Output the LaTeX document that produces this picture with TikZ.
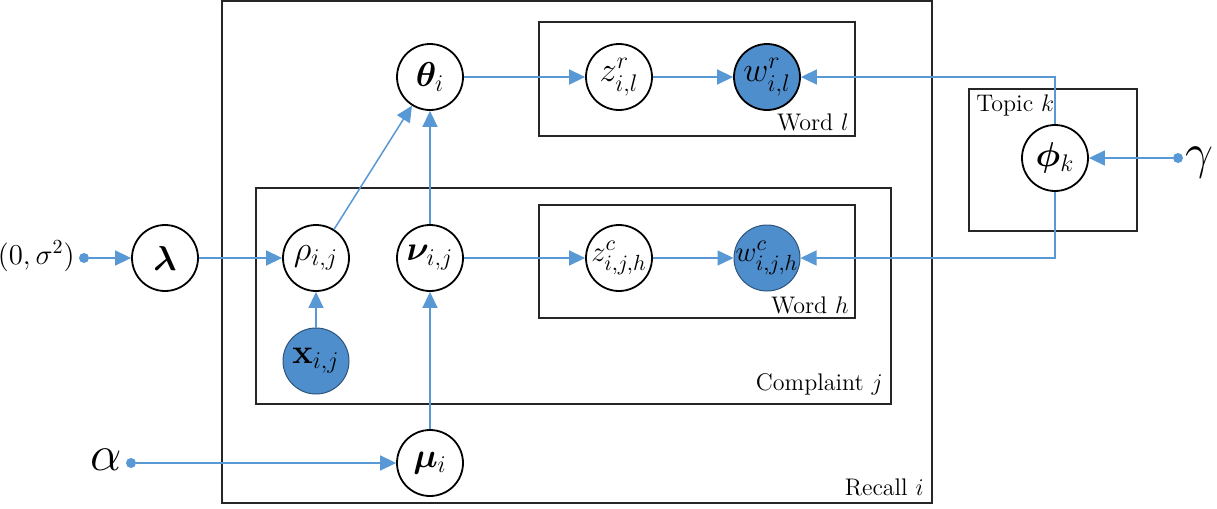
\documentclass[tikz,border=0pt]{standalone}
\usepackage{amsmath,amssymb,bm}
\usetikzlibrary{arrows.meta}
\definecolor{lblue}{RGB}{88,152,212}
\definecolor{fblue}{RGB}{78,142,204}
\begin{document}
\begin{tikzpicture}[x=0.5pt,y=-0.5pt,
  var/.style={circle,draw=black,line width=0.9pt,minimum size=33pt,inner sep=0pt,fill=white},
  obs/.style={var,fill=fblue},
  obsthin/.style={var,fill=fblue,draw=fblue!60!black,line width=0.5pt},
  big/.style={font=\fontsize{18}{21}\selectfont,inner sep=0pt},
  mid/.style={font=\fontsize{15}{18}\selectfont,inner sep=0pt},
  platebox/.style={draw=black!85,line width=0.9pt},
  conn/.style={draw=lblue,line width=0.75pt,-{Triangle[length=8pt,width=7.5pt]}},
  dotnode/.style={circle,fill=lblue,inner sep=0pt,minimum size=5pt},
  lab/.style={inner sep=1pt,font=\large}]
\useasboundingbox (0,0) rectangle (1217,509);
% plates
\draw[platebox] (222,1) rectangle (932,503);
\draw[platebox] (256,188) rectangle (891,404);
\draw[platebox] (539,22) rectangle (855,136);
\draw[platebox] (539,205) rectangle (855,318);
\draw[platebox] (969,89) rectangle (1137,231);
\node[lab,anchor=south east] (lw) at (851,133) {Word $l$};
\node[lab,anchor=south east] (lh) at (851,316) {Word $h$};
\node[lab,anchor=south east] (lc) at (885,398) {Complaint $j$};
\node[lab,anchor=south east] (lr) at (926,498) {Recall $i$};
\node[lab,anchor=north west] (lt) at (974,92) {Topic $k$};
% nodes
\node[var,label={[big]center:$\bm{\lambda}$}] (lam) at (165,258) {};
\node[var,label={[big]center:$\rho_{i,j}$}] (rho) at (316,258) {};
\node[var,label={[big]center:$\bm{\nu}_{i,j}$}] (nu) at (430,258) {};
\node[var,label={[big]center:$\bm{\theta}_i$}] (th) at (430,77) {};
\node[obsthin,label={[big]center:$\mathbf{x}_{i,j}$}] (x) at (316,361) {};
\node[var,label={[big]center:$\bm{\mu}_i$}] (mu) at (430,463) {};
\node[var,label={[big]center:$z^r_{i,l}$}] (zr) at (619,77) {};
\node[obs,label={[big]center:$w^r_{i,l}$}] (wr) at (767,77) {};
\node[var,label={[mid]center:$z^c_{i,j,h}$}] (zc) at (619,258) {};
\node[obsthin,label={[mid]center:$w^c_{i,j,h}$}] (wc) at (767,258) {};
\node[var,label={[big]center:$\bm{\phi}_k$}] (phi) at (1055,158) {};
% hyperparameters
\node[dotnode] (ds) at (84,258) {};
\node[anchor=east,font=\fontsize{14.5}{17}\selectfont,inner sep=1pt] (sig) at (77,256) {$(0,\sigma^2)$};
\node[dotnode] (da) at (131,463) {};
\node[anchor=east,font=\fontsize{23}{26}\selectfont,inner sep=1pt] (al) at (124,460) {$\alpha$};
\node[dotnode] (dg) at (1178,158) {};
\node[anchor=west,font=\fontsize{23}{26}\selectfont,inner sep=1pt] (ga) at (1183,163) {$\gamma$};
% edges
\draw[conn] (ds) -- (lam);
\draw[conn] (lam) -- (rho);
\draw[conn] (x) -- (rho);
\draw[conn] (rho) -- (th);
\draw[conn] (nu) -- (th);
\draw[conn] (mu) -- (nu);
\draw[conn] (da) -- (mu);
\draw[conn] (th) -- (zr);
\draw[conn] (zr) -- (wr);
\draw[conn] (nu) -- (zc);
\draw[conn] (zc) -- (wc);
\draw[conn] (dg) -- (phi);
\draw[conn] (phi.north) |- (wr.east);
\draw[conn] (phi.south) |- (wc.east);
\end{tikzpicture}
\end{document}
